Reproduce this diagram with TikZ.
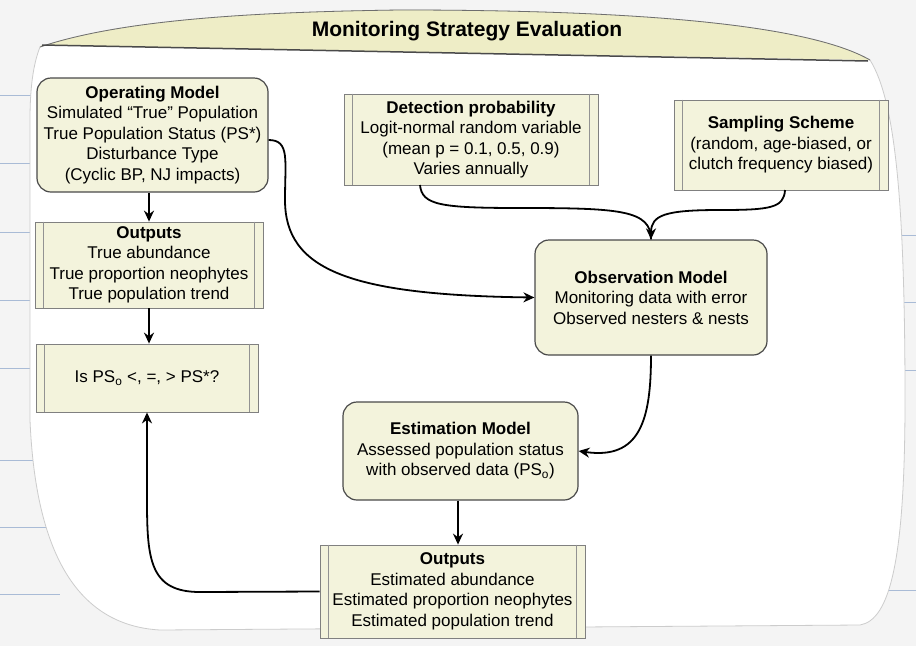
\documentclass[tikz,border=0pt]{standalone}
\usepackage{fontspec}
\setmainfont{Liberation Sans}
\usetikzlibrary{arrows.meta}
\definecolor{boxfill}{HTML}{F3F3DC}
\definecolor{banner}{HTML}{EEEDC6}
\definecolor{edge}{HTML}{4A4A4A}
\definecolor{paper}{HTML}{F4F4F4}
\definecolor{ruling}{HTML}{A9BBD6}
\begin{document}
\begin{tikzpicture}[x=1pt,y=-1pt,
  txt/.style={font=\fontsize{17}{20.5}\selectfont, align=center, inner sep=2pt},
  roundbox/.style={txt, draw=edge, line width=1.2pt, fill=boxfill, rounded corners=14pt},
  procbox/.style={txt, draw=edge!70, line width=0.8pt, fill=boxfill},
  conn/.style={line width=1.8pt, -{Stealth[length=11pt,width=10pt]}},
  plain/.style={line width=1.8pt}
]
\useasboundingbox (0,0) rectangle (916,646);
\fill[paper] (0,0) rectangle (916,646);
% ruled paper lines peeking out
\foreach \yy in {95,163,232,300,368,460,527,594}
  \draw[ruling, line width=0.8pt] (0,\yy) -- (60,\yy);
\foreach \yy in {235,302,370,590}
  \draw[ruling, line width=0.8pt] (880,\yy) -- (916,\yy);
% card
\filldraw[fill=white, draw=gray!40, line width=0.8pt] (40,47) .. controls (120,20) and (250,12) .. (400,10)
  .. controls (600,10) and (800,20) .. (870,60)
  .. controls (895,100) and (905,200) .. (905,400)
  .. controls (905,560) and (890,620) .. (860,625)
  -- (160,630) .. controls (70,625) and (35,540) .. (30,420)
  -- (30,120) .. controls (30,80) and (35,60) .. (40,47) -- cycle;
% banner
\path[fill=banner] (40,47) .. controls (120,20) and (250,12) .. (400,10)
  .. controls (600,10) and (800,20) .. (870,60) -- (42,45) -- cycle;
\draw[edge!80, line width=0.8pt] (40,47) .. controls (120,20) and (250,12) .. (400,10)
  .. controls (600,10) and (800,20) .. (870,60);
\draw[edge, line width=1.5pt] (42,45) -- (868,61);
\node[font=\bfseries\fontsize{21}{24}\selectfont] (title) at (467,31) {Monitoring Strategy Evaluation};

% boxes
\node[roundbox, minimum width=231pt, minimum height=114pt] (op) at (152.5,135)
  {\textbf{Operating Model}\\Simulated “True” Population\\True Population Status (PS*)\\Disturbance Type\\(Cyclic BP, NJ impacts)};
\node[procbox, minimum width=228pt, minimum height=86pt] (out1) at (149,265)
  {\textbf{Outputs}\\True abundance\\True proportion neophytes\\True population trend};
\node[procbox, minimum width=222pt, minimum height=68pt] (cmp) at (147,378)
  {Is PS\textsubscript{o} <, =, > PS*?};
\node[procbox, minimum width=254pt, minimum height=91pt] (det) at (471,139.5)
  {\textbf{Detection probability}\\Logit-normal random variable\\(mean p = 0.1, 0.5, 0.9)\\Varies annually};
\node[procbox, minimum width=214pt, minimum height=90pt] (samp) at (781,145)
  {\textbf{Sampling Scheme}\\(random, age-biased, or\\clutch frequency biased)};
\node[roundbox, minimum width=232pt, minimum height=115pt] (obs) at (651,297.5)
  {\textbf{Observation Model}\\Monitoring data with error\\Observed nesters \& nests};
\node[roundbox, minimum width=235pt, minimum height=98pt] (est) at (460.5,451)
  {\textbf{Estimation Model}\\Assessed population status\\with observed data (PS\textsubscript{o})};
\node[procbox, minimum width=265pt, minimum height=93pt] (out2) at (452.5,591.5)
  {\textbf{Outputs}\\Estimated abundance\\Estimated proportion neophytes\\Estimated population trend};

% inner lines of process boxes
\foreach \n in {out1,cmp,det,samp,out2}{
  \draw[edge!60, line width=0.6pt] ([xshift=9pt]\n.north west) -- ([xshift=9pt]\n.south west);
  \draw[edge!60, line width=0.6pt] ([xshift=-9pt]\n.north east) -- ([xshift=-9pt]\n.south east);
}

% connectors
\draw[conn] (out1.north |- op.south) -- (out1.north);
\draw[conn] (out1.south) -- (out1.south |- cmp.north);
\draw[conn] (op.east |- 0,140) coordinate (opE)
  .. controls (290,140) and (285,160) .. (285,200)
  .. controls (285,270) and (350,295) .. (obs.west);
\coordinate (detB) at (420,185);
\coordinate (sampB) at (785,190);
\draw[plain] (detB) .. controls (422,205) and (440,208) .. (520,208)
  .. controls (620,208) and (651,210) .. (obs.north);
\draw[conn] (sampB) .. controls (784,208) and (770,210) .. (720,210)
  .. controls (665,210) and (651,215) .. (obs.north);
\draw[conn] (obs.south) .. controls (651,420) and (640,460) .. (est.east);
\draw[conn] (est.south -| 458,0) -- (458,0 |- out2.north);
\draw[conn] (out2.west) -- (200,592) .. controls (150,592) and (147,560) .. (147,500) -- (cmp.south);
\end{tikzpicture}
\end{document}
